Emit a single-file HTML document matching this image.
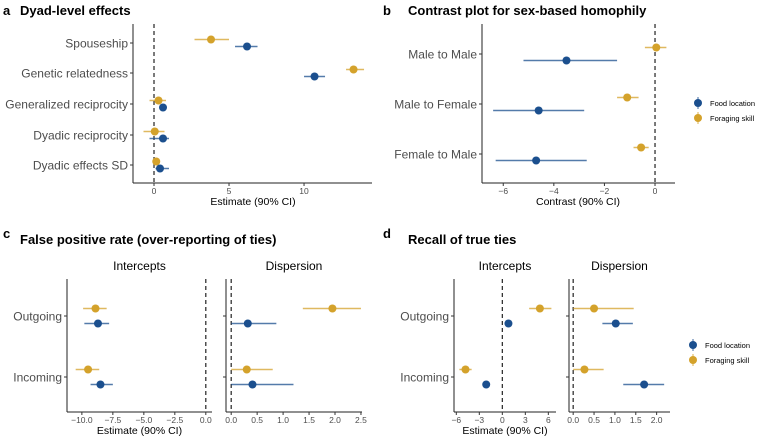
<!DOCTYPE html>
<html><head><meta charset="utf-8"><style>
body{margin:0;background:#fff}
svg{display:block;font-family:"Liberation Sans",Arial,sans-serif}
.lab{font-size:12px;fill:#4d4d4d}
.tick{font-size:8.5px;fill:#4d4d4d}
.ttl{font-size:10.5px;fill:#000}
.ft{font-size:12px;fill:#000}
.pt{font-size:13px;font-weight:bold;fill:#000}
.leg{font-size:7.5px;fill:#000}
</style></head><body>
<svg id="fig" width="760" height="439" viewBox="0 0 760 439">
<text class="pt" x="3" y="15">a</text>
<text class="pt" x="20" y="15">Dyad-level effects</text>
<text class="pt" x="383" y="15">b</text>
<text class="pt" x="408" y="15">Contrast plot for sex-based homophily</text>
<text class="pt" x="3" y="238">c</text>
<text class="pt" x="20" y="244">False positive rate (over-reporting of ties)</text>
<text class="pt" x="383" y="238">d</text>
<text class="pt" x="408" y="244">Recall of true ties</text>
</svg>
<script>
// Panel a
const aCats=["Spouseship","Genetic relatedness","Generalized reciprocity","Dyadic reciprocity","Dyadic effects SD"];
const aFood=[6.2,10.7,0.6,0.6,0.4];
const aFoodLo=[5.4,10.0,0.5,-0.3,0.1];
const aFoodHi=[6.9,11.4,0.7,1.0,1.0];
const aForag=[3.8,13.3,0.3,0.05,0.15];
const aForagLo=[2.7,12.8,-0.3,-0.7,0.1];
const aForagHi=[5.0,14.0,0.8,0.7,0.2];
const aTicks=[0,5,10];
// Panel b
const bCats=["Male to Male","Male to Female","Female to Male"];
const bFood=[-3.5,-4.6,-4.7];
const bFoodLo=[-5.2,-6.4,-6.3];
const bFoodHi=[-1.5,-2.8,-2.7];
const bForag=[0.05,-1.1,-0.55];
const bForagLo=[-0.4,-1.5,-0.85];
const bForagHi=[0.45,-0.65,-0.25];
const bTicks=[-6,-4,-2,0];
// Panel c / d
const facetCats=["Outgoing","Incoming"];
const cIntFood=[-8.7,-8.5],cIntFoodLo=[-9.8,-9.3],cIntFoodHi=[-7.8,-7.5];
const cIntForag=[-8.9,-9.5],cIntForagLo=[-9.9,-10.5],cIntForagHi=[-8.0,-8.6];
const cDisFood=[0.32,0.41],cDisFoodLo=[0.0,0.0],cDisFoodHi=[0.87,1.2];
const cDisForag=[1.95,0.3],cDisForagLo=[1.38,0.0],cDisForagHi=[2.5,0.8];
const cIntTicks=[-10,-7.5,-5,-2.5,0];
const cDisTicks=[0,0.5,1,1.5,2,2.5];
const dIntFood=[0.8,-2.1],dIntFoodLo=[0.6,-2.3],dIntFoodHi=[1.0,-1.9];
const dIntForag=[4.9,-4.8],dIntForagLo=[3.5,-5.6],dIntForagHi=[6.4,-4.0];
const dDisFood=[1.02,1.7],dDisFoodLo=[0.7,1.2],dDisFoodHi=[1.43,2.18];
const dDisForag=[0.5,0.27],dDisForagLo=[0.0,0.0],dDisForagHi=[1.45,0.73];
const dIntTicks=[-6,-3,0,3,6];
const dDisTicks=[0,0.5,1,1.5,2];

const FOOD="#1b4f8e",FORAG="#d4a22b";
const svg=document.getElementById('fig');
const NS="http://www.w3.org/2000/svg";
function mk(tag,attrs,parent){const e=document.createElementNS(NS,tag);for(const k in attrs)e.setAttribute(k,attrs[k]);(parent||svg).appendChild(e);return e;}

function panel(p){
  const g=mk('g',{});
  
  
  const sx=v=>p.x0+(v-p.vmin)/(p.vmax-p.vmin)*(p.x1-p.x0);
  const ya=mk('line',{x1:p.x0,x2:p.x0,y1:p.yTop,y2:p.yBot,stroke:'#222','stroke-width':1},g);
  
  
  const xa=mk('line',{x1:p.x0,x2:p.x1,y1:p.yBot,y2:p.yBot,stroke:'#222','stroke-width':1},g);
  
  
  const z=mk('line',{x1:sx(0),x2:sx(0),y1:p.yTop,y2:p.yBot,stroke:'#222','stroke-width':1.2,'stroke-dasharray':'4,3'},g);
  
  
  p.ticks.forEach(t=>{
    mk('line',{x1:sx(t),x2:sx(t),y1:p.yBot,y2:p.yBot+3,stroke:'#333'},g);
    const tx=mk('text',{x:sx(t),y:p.yBot+11,'text-anchor':'middle',class:'tick'},g);
    tx.textContent=(p.fmt?p.fmt(t):String(t)).replace('-','\u2212');
    
    
  });
  p.cats.forEach((c,i)=>{
    const y=p.catY[i];
    mk('line',{x1:p.x0-3,x2:p.x0,y1:y,y2:y,stroke:'#333'},g);
    if(p.showLabels){
      const tx=mk('text',{x:p.x0-5,y:y+4.5,'text-anchor':'end',class:'lab'},g);
      tx.textContent=c;
      
      
    }
    [[p.forag,p.foragLo,p.foragHi,FORAG,-p.dodge,'foraging-skill'],[p.food,p.foodLo,p.foodHi,FOOD,p.dodge,'food-location']].forEach(s=>{
      const yy=y+s[4];
      const l=mk('line',{x1:sx(s[1][i]),x2:sx(s[2][i]),y1:yy,y2:yy,stroke:s[3],'stroke-width':1.5,'stroke-opacity':0.75},g);
      
      
      const ci=mk('circle',{cx:sx(s[0][i]),cy:yy,r:4,fill:s[3]},g);
      
      
    });
  });
  if(p.facet){
    const ft=mk('text',{x:(p.x0+p.x1)/2,y:p.yTop-9,'text-anchor':'middle',class:'ft'},g);
    ft.textContent=p.facet;
    
    
  }
  if(p.xtitle){
    const t=mk('text',{x:p.xtitleX||(p.x0+p.x1)/2,y:p.yBot+22,'text-anchor':'middle',class:'ttl'},g);
    t.textContent=p.xtitle;
    
    
  }
}
function legend(x,y){
  [[FOOD,'Food location','legend-food-location'],[FORAG,'Foraging skill','legend-foraging-skill']].forEach((s,i)=>{
    const g=mk('g',{});
    
    
    const yy=y+i*15;
    mk('line',{x1:x,x2:x,y1:yy-6,y2:yy+6,stroke:s[0],'stroke-width':1.2,'stroke-opacity':0.7},g);
    mk('circle',{cx:x,cy:yy,r:4,fill:s[0]},g);
    const t=mk('text',{x:x+12,y:yy+3,class:'leg'},g);t.textContent=s[1];
  });
}
const f1=v=>v.toFixed(1);
panel({name:'panel-a-chart',x0:133,x1:372,vmin:-1.4,vmax:14.53,yTop:24,yBot:183,ticks:aTicks,cats:aCats,catY:[43,73,104,135,165],dodge:3.5,
  food:aFood,foodLo:aFoodLo,foodHi:aFoodHi,forag:aForag,foragLo:aForagLo,foragHi:aForagHi,showLabels:true,xtitle:'Estimate (90% CI)',xtitleX:253});
panel({name:'panel-b-chart',x0:482,x1:675,vmin:-6.84,vmax:0.79,yTop:24,yBot:183,ticks:bTicks,cats:bCats,catY:[54,104,154],dodge:6.5,
  food:bFood,foodLo:bFoodLo,foodHi:bFoodHi,forag:bForag,foragLo:bForagLo,foragHi:bForagHi,showLabels:true,xtitle:'Contrast (90% CI)',xtitleX:578});
legend(698,103);
panel({name:'panel-c-intercepts',x0:67,x1:212,vmin:-11.2,vmax:0.5,yTop:279,yBot:412,ticks:cIntTicks,fmt:f1,cats:facetCats,catY:[316,377],dodge:7.5,
  food:cIntFood,foodLo:cIntFoodLo,foodHi:cIntFoodHi,forag:cIntForag,foragLo:cIntForagLo,foragHi:cIntForagHi,showLabels:true,facet:'Intercepts',xtitle:'Estimate (90% CI)'});
panel({name:'panel-c-dispersion',x0:226,x1:362,vmin:-0.1,vmax:2.52,yTop:279,yBot:412,ticks:cDisTicks,fmt:f1,cats:facetCats,catY:[316,377],dodge:7.5,
  food:cDisFood,foodLo:cDisFoodLo,foodHi:cDisFoodHi,forag:cDisForag,foragLo:cDisForagLo,foragHi:cDisForagHi,showLabels:false,facet:'Dispersion'});
panel({name:'panel-d-intercepts',x0:454,x1:556,vmin:-6.3,vmax:7.0,yTop:279,yBot:412,ticks:dIntTicks,cats:facetCats,catY:[316,377],dodge:7.5,
  food:dIntFood,foodLo:dIntFoodLo,foodHi:dIntFoodHi,forag:dIntForag,foragLo:dIntForagLo,foragHi:dIntForagHi,showLabels:true,facet:'Intercepts',xtitle:'Estimate (90% CI)'});
panel({name:'panel-d-dispersion',x0:569,x1:670,vmin:-0.1,vmax:2.32,yTop:279,yBot:412,ticks:dDisTicks,fmt:f1,cats:facetCats,catY:[316,377],dodge:7.5,
  food:dDisFood,foodLo:dDisFoodLo,foodHi:dDisFoodHi,forag:dDisForag,foragLo:dDisForagLo,foragHi:dDisForagHi,showLabels:false,facet:'Dispersion'});
legend(693,345);
</script>
</body></html>
